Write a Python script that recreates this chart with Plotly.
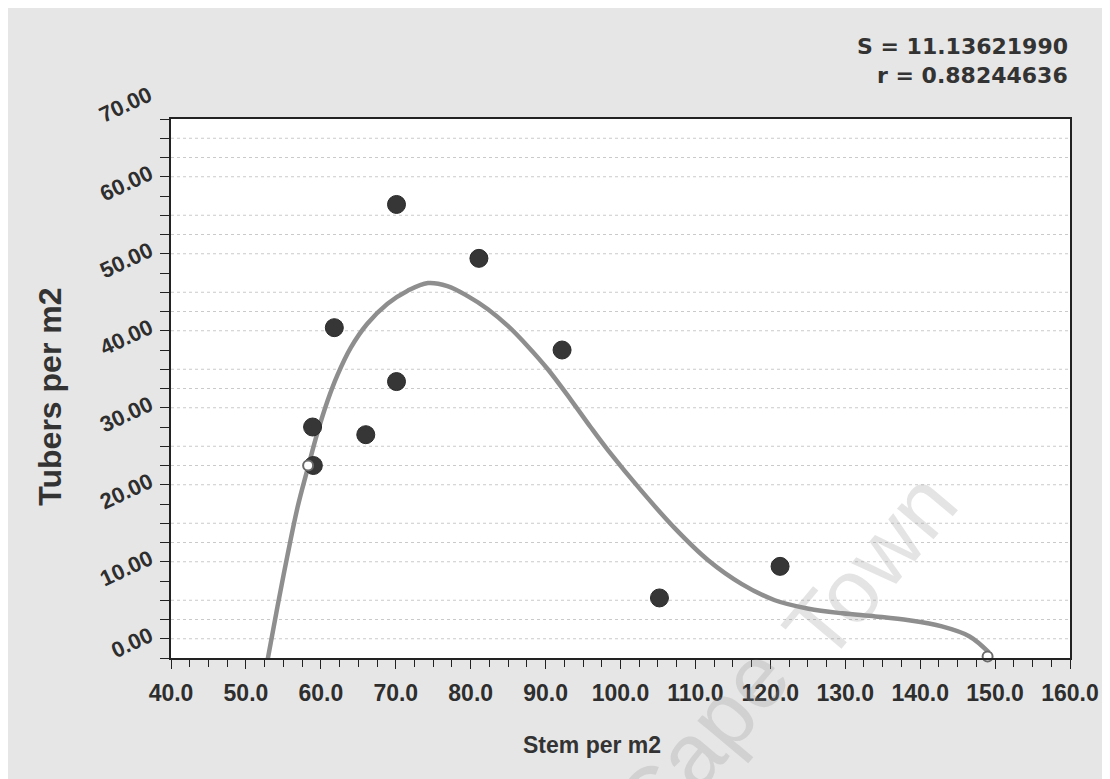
import plotly.graph_objects as go

# Observed data (Stem per m2 vs Tubers per m2)
stem = [58.9, 59.0, 61.8, 66.0, 70.1, 70.1, 81.1, 92.2, 105.2, 121.3]
tubers = [27.5, 22.5, 40.4, 26.5, 56.4, 33.4, 49.4, 37.5, 5.3, 9.4]

# Fitted curve
fit_x = [52.9, 54.2, 55.5, 56.9, 58.3, 59.5, 60.9, 62.2, 64.0, 66.2, 68.9, 71.6, 74.3,
         76.9, 79.6, 82.3, 85.0, 87.7, 90.3, 93.4, 96.0, 98.4, 102.8, 107.2, 111.7,
         116.2, 120.6, 125.1, 129.6, 134.0, 138.5, 142.9, 146.6, 149.2]
fit_y = [-2.7, 4.1, 10.6, 17.1, 22.3, 26.6, 30.9, 34.2, 37.8, 40.9, 43.5, 45.2, 46.2,
         45.8, 44.5, 42.8, 40.6, 37.9, 35.0, 31.0, 27.5, 24.4, 19.2, 14.4, 10.2,
         7.1, 5.0, 3.9, 3.3, 2.9, 2.4, 1.6, 0.3, -1.8]

# Open end markers on the curve
end_x = [58.3, 149.0]
end_y = [22.5, -2.3]

# Axis ticks
y_tick_vals = [0, 10, 20, 30, 40, 50, 60]
y_tick_text = ["0.00", "10.00", "20.00", "30.00", "40.00", "50.00", "60.00"]
y_top_label = "70.00"
x_tick_vals = [40, 50, 60, 70, 80, 90, 100, 110, 120, 130, 140, 150, 160]
x_tick_text = ["40.0", "50.0", "60.0", "70.0", "80.0", "90.0", "100.0",
               "110.0", "120.0", "130.0", "140.0", "150.0", "160.0"]

# Dotted grid levels present in the picture
grid_levels = [0, 2.5, 5, 10, 12.5, 15, 20, 22.5, 25, 30, 32.5, 35, 40, 42.5, 45,
               50, 52.5, 55, 60, 62.5, 65]

stats_lines = ["S = 11.13621990", "r = 0.88244636"]
x_title = "Stem per m2"
y_title = "Tubers per m2"

TXT = "#2e2e2e"
fig = go.Figure()

fig.add_trace(go.Scatter(
    x=fit_x, y=fit_y, mode="lines",
    line=dict(color="#8e8e8e", width=4.5, shape="spline", smoothing=1.0),
    hoverinfo="skip", showlegend=False))
fig.add_trace(go.Scatter(
    x=stem, y=tubers, mode="markers",
    marker=dict(color="#363636", size=18, line=dict(color="#2a2a2a", width=1)),
    showlegend=False))
fig.add_trace(go.Scatter(
    x=end_x, y=end_y, mode="markers",
    marker=dict(color="white", size=10, line=dict(color="#6a6a6a", width=2)),
    showlegend=False, cliponaxis=False))

shapes = []
for g in grid_levels:
    shapes.append(dict(type="line", xref="paper", yref="y", x0=0, x1=1, y0=g, y1=g,
                       line=dict(color="#cacaca", width=1, dash="dot"), layer="below"))

wm_font = dict(family="Liberation Sans", size=90, color="rgba(150,150,150,0.26)")
annotations = [
    dict(text="<b>" + stats_lines[0] + "</b>", xref="paper", yref="paper",
         x=0.9996, y=1.1336, xanchor="right", yanchor="middle", showarrow=False,
         font=dict(family="DejaVu Sans", size=22, color="#333333")),
    dict(text="<b>" + stats_lines[1] + "</b>", xref="paper", yref="paper",
         x=0.9996, y=1.0816, xanchor="right", yanchor="middle", showarrow=False,
         font=dict(family="DejaVu Sans", size=22, color="#333333")),
    dict(text="<b>" + y_top_label + "</b>", xref="paper", yref="paper", x=-0.0505, y=1.0357,
         xanchor="center", yanchor="middle", yshift=-5,
         showarrow=False, textangle=-25,
         font=dict(family="Liberation Sans", size=22, color=TXT)),
    dict(text="<b>" + x_title + "</b>", xref="paper", yref="paper", x=0.468, y=-0.161,
         xanchor="center", yanchor="middle", showarrow=False,
         font=dict(family="Liberation Sans", size=23, color="#333333")),
    dict(text="<b>" + y_title + "</b>", xref="paper", yref="paper", x=-0.134, y=0.484,
         xanchor="center", yanchor="middle", showarrow=False, textangle=-90,
         font=dict(family="Liberation Sans", size=32, color="#333333")),
    dict(text="Town", xref="paper", yref="paper", x=0.778, y=0.171,
         xanchor="center", yanchor="middle", showarrow=False, textangle=-50, font=wm_font),
    dict(text="Cape", xref="paper", yref="paper", x=0.590, y=-0.156,
         xanchor="center", yanchor="middle", showarrow=False, textangle=-50, font=wm_font),
]

fig.update_layout(
    width=1110, height=779,
    margin=dict(l=163, r=48, t=111, b=129),
    paper_bgcolor="#e6e6e6", plot_bgcolor="white",
    shapes=shapes, annotations=annotations,
    xaxis=dict(
        range=[40, 160], tickvals=x_tick_vals, ticktext=["<b>" + t + "</b>" for t in x_tick_text],
        showgrid=False, zeroline=False, showline=True, mirror=True,
        linecolor="#222222", linewidth=1.5,
        ticks="outside", ticklen=9, tickwidth=1.3, tickcolor="#222222", ticklabelstandoff=5,
        minor=dict(dtick=2.5, tick0=40, ticks="outside", ticklen=7, tickcolor="#222222",
                   tickwidth=1.2, showgrid=False),
        tickfont=dict(family="Liberation Sans", size=23, color=TXT),
    ),
    yaxis=dict(
        range=[-2.5, 67.5], tickvals=y_tick_vals,
        ticktext=["<b>" + t + "</b>" for t in y_tick_text], tickangle=-25,
        showgrid=False, zeroline=False, showline=True, mirror=True,
        linecolor="#222222", linewidth=1.5,
        ticks="outside", ticklen=9, tickwidth=1.3, tickcolor="#222222",
        ticklabelstandoff=6, ticklabelshift=-5,
        minor=dict(dtick=2.5, tick0=0, ticks="outside", ticklen=9, tickcolor="#222222",
                   tickwidth=1.2, showgrid=False),
        tickfont=dict(family="Liberation Sans", size=22, color=TXT),
    ),
)

fig.write_html("out.html")
